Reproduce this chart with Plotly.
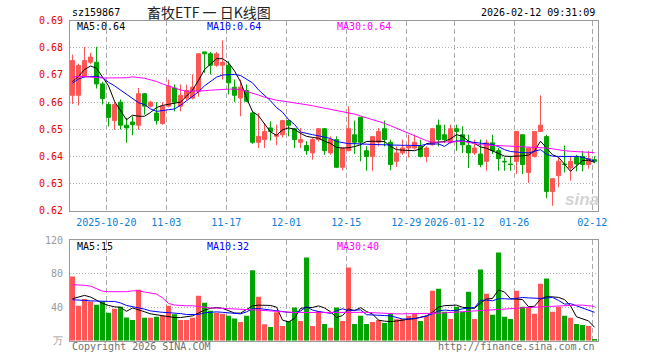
import plotly.graph_objects as go

# ---------------- data ----------------
opens = [0.6625, 0.6625, 0.6695, 0.6747, 0.6747, 0.6667, 0.6591, 0.6532, 0.6600, 0.6515,
         0.6527, 0.6515, 0.6631, 0.6585, 0.6560, 0.6521, 0.6585, 0.6652, 0.6585, 0.6615,
         0.6615, 0.6640, 0.6785, 0.6778, 0.6736, 0.6736, 0.6736, 0.6655, 0.6615, 0.6643,
         0.6560, 0.6452, 0.6462, 0.6505, 0.6474, 0.6480, 0.6532, 0.6502, 0.6452, 0.6440,
         0.6413, 0.6462, 0.6502, 0.6413, 0.6462, 0.6360, 0.6421, 0.6480, 0.6544, 0.6421,
         0.6400, 0.6452, 0.6502, 0.6452, 0.6382, 0.6413, 0.6431, 0.6431, 0.6437, 0.6400,
         0.6443, 0.6515, 0.6480, 0.6452, 0.6502, 0.6480, 0.6440, 0.6413, 0.6409, 0.6382,
         0.6450, 0.6421, 0.6382, 0.6372, 0.6382, 0.6480, 0.6341, 0.6400, 0.6492, 0.6473,
         0.6271, 0.6329, 0.6372, 0.6357, 0.6396, 0.6400, 0.6370, 0.6388]
highs = [0.6775, 0.6742, 0.6803, 0.6782, 0.6804, 0.6675, 0.6600, 0.6600, 0.6610, 0.6542,
         0.6548, 0.6652, 0.6633, 0.6605, 0.6600, 0.6600, 0.6683, 0.6665, 0.6665, 0.6665,
         0.6702, 0.6780, 0.6785, 0.6785, 0.6785, 0.6828, 0.6751, 0.6683, 0.6683, 0.6665,
         0.6566, 0.6560, 0.6523, 0.6529, 0.6517, 0.6535, 0.6535, 0.6505, 0.6505, 0.6456,
         0.6468, 0.6505, 0.6505, 0.6474, 0.6474, 0.6431, 0.6585, 0.6532, 0.6544, 0.6437,
         0.6473, 0.6505, 0.6532, 0.6462, 0.6437, 0.6462, 0.6480, 0.6480, 0.6462, 0.6437,
         0.6505, 0.6536, 0.6517, 0.6517, 0.6517, 0.6511, 0.6480, 0.6462, 0.6462, 0.6462,
         0.6480, 0.6431, 0.6396, 0.6400, 0.6492, 0.6480, 0.6431, 0.6492, 0.6625, 0.6480,
         0.6318, 0.6396, 0.6440, 0.6400, 0.6406, 0.6420, 0.6420, 0.6400]
lows = [0.6593, 0.6588, 0.6690, 0.6740, 0.6650, 0.6591, 0.6511, 0.6499, 0.6499, 0.6450,
        0.6478, 0.6499, 0.6554, 0.6580, 0.6517, 0.6517, 0.6580, 0.6566, 0.6566, 0.6608,
        0.6610, 0.6620, 0.6708, 0.6702, 0.6730, 0.6683, 0.6628, 0.6600, 0.6548, 0.6600,
        0.6446, 0.6431, 0.6431, 0.6458, 0.6441, 0.6470, 0.6474, 0.6431, 0.6431, 0.6406,
        0.6388, 0.6455, 0.6406, 0.6406, 0.6357, 0.6349, 0.6419, 0.6409, 0.6382, 0.6347,
        0.6347, 0.6437, 0.6437, 0.6349, 0.6361, 0.6406, 0.6396, 0.6425, 0.6396, 0.6379,
        0.6440, 0.6437, 0.6449, 0.6447, 0.6421, 0.6413, 0.6357, 0.6406, 0.6360, 0.6347,
        0.6409, 0.6347, 0.6347, 0.6347, 0.6335, 0.6335, 0.6302, 0.6396, 0.6490, 0.6246,
        0.6218, 0.6286, 0.6341, 0.6311, 0.6345, 0.6345, 0.6355, 0.6375]
closes = [0.6753, 0.6735, 0.6753, 0.6766, 0.6667, 0.6613, 0.6544, 0.6591, 0.6515, 0.6505,
          0.6517, 0.6631, 0.6585, 0.6600, 0.6532, 0.6585, 0.6659, 0.6600, 0.6625, 0.6643,
          0.6655, 0.6778, 0.6778, 0.6736, 0.6778, 0.6747, 0.6671, 0.6625, 0.6655, 0.6603,
          0.6452, 0.6474, 0.6492, 0.6492, 0.6480, 0.6532, 0.6515, 0.6462, 0.6462, 0.6421,
          0.6462, 0.6502, 0.6421, 0.6462, 0.6360, 0.6431, 0.6502, 0.6452, 0.6452, 0.6400,
          0.6473, 0.6492, 0.6462, 0.6370, 0.6413, 0.6431, 0.6437, 0.6452, 0.6400, 0.6431,
          0.6502, 0.6462, 0.6462, 0.6502, 0.6492, 0.6443, 0.6413, 0.6431, 0.6370, 0.6450,
          0.6421, 0.6392, 0.6380, 0.6370, 0.6492, 0.6370, 0.6431, 0.6492, 0.6515, 0.6271,
          0.6318, 0.6382, 0.6370, 0.6382, 0.6372, 0.6370, 0.6392, 0.6382]
volumes = [76.4, 41.6, 49.6, 46.8, 42.8, 46.8, 33.2, 38.0, 40.4, 27.6,
           24.8, 60.8, 27.2, 27.2, 28.4, 29.6, 41.6, 31.6, 24.8, 24.8,
           27.2, 53.6, 45.2, 35.6, 33.2, 32.0, 29.6, 26.4, 22.4, 29.6,
           84.0, 52.4, 19.6, 16.4, 34.0, 17.6, 23.6, 39.6, 23.6, 99.2,
           17.6, 35.2, 20.0, 15.4, 39.6, 23.6, 87.2, 20.0, 29.6, 20.0,
           22.4, 24.8, 21.2, 32.0, 25.6, 25.6, 29.6, 32.0, 23.6, 29.6,
           59.6, 62.0, 34.4, 26.0, 40.4, 34.4, 58.4, 26.0, 84.8, 56.0,
           30.8, 105.2, 28.4, 26.0, 59.6, 40.4, 40.4, 32.0, 68.0, 74.0,
           34.4, 40.4, 29.6, 27.2, 20.0, 18.8, 17.6, 2.0]

ma5 = [0.6676, 0.6695, 0.6720, 0.6733, 0.6725, 0.6690, 0.6660, 0.6603, 0.6568, 0.6535,
       0.6552, 0.6548, 0.6548, 0.6562, 0.6580, 0.6588, 0.6592, 0.6596, 0.6600, 0.6622,
       0.6645, 0.6680, 0.6720, 0.6740, 0.6760, 0.6760, 0.6745, 0.6715, 0.6675, 0.6615,
       0.6565, 0.6550, 0.6522, 0.6490, 0.6478, 0.6498, 0.6505, 0.6500, 0.6485, 0.6474,
       0.6470, 0.6467, 0.6456, 0.6448, 0.6433, 0.6431, 0.6432, 0.6436, 0.6443, 0.6455,
       0.6456, 0.6456, 0.6455, 0.6437, 0.6425, 0.6423, 0.6421, 0.6421, 0.6428, 0.6447,
       0.6450, 0.6452, 0.6455, 0.6465, 0.6480, 0.6474, 0.6456, 0.6448, 0.6435, 0.6430,
       0.6420, 0.6412, 0.6401, 0.6400, 0.6400, 0.6402, 0.6405, 0.6420, 0.6456, 0.6431,
       0.6406, 0.6397, 0.6370, 0.6345, 0.6365, 0.6385, 0.6386, 0.6378]
ma10 = [0.6670, 0.6685, 0.6693, 0.6695, 0.6695, 0.6690, 0.6673, 0.6660, 0.6645, 0.6630,
        0.6612, 0.6598, 0.6591, 0.6575, 0.6566, 0.6570, 0.6572, 0.6575, 0.6588, 0.6605,
        0.6622, 0.6638, 0.6660, 0.6675, 0.6692, 0.6700, 0.6702, 0.6702, 0.6698, 0.6685,
        0.6671, 0.6645, 0.6625, 0.6605, 0.6580, 0.6563, 0.6536, 0.6518, 0.6490, 0.6484,
        0.6480, 0.6476, 0.6472, 0.6466, 0.6455, 0.6450, 0.6447, 0.6447, 0.6447, 0.6445,
        0.6444, 0.6443, 0.6442, 0.6442, 0.6441, 0.6441, 0.6441, 0.6441, 0.6440, 0.6445,
        0.6446, 0.6446, 0.6437, 0.6452, 0.6457, 0.6457, 0.6454, 0.6451, 0.6449, 0.6447,
        0.6444, 0.6436, 0.6425, 0.6418, 0.6415, 0.6414, 0.6413, 0.6418, 0.6425, 0.6408,
        0.6401, 0.6400, 0.6400, 0.6400, 0.6400, 0.6397, 0.6390, 0.6383]
ma30 = [0.6692, 0.6695, 0.6694, 0.6692, 0.6690, 0.6689, 0.6689, 0.6689, 0.6688, 0.6690,
        0.6693, 0.6691, 0.6688, 0.6682, 0.6676, 0.6667, 0.6659, 0.6651, 0.6645, 0.6640,
        0.6640, 0.6641, 0.6642, 0.6644, 0.6646, 0.6647, 0.6648, 0.6648, 0.6646, 0.6640,
        0.6634, 0.6626, 0.6618, 0.6612, 0.6607, 0.6604, 0.6601, 0.6598, 0.6595, 0.6591,
        0.6587, 0.6582, 0.6578, 0.6573, 0.6568, 0.6564, 0.6560, 0.6556, 0.6549, 0.6542,
        0.6536, 0.6530, 0.6522, 0.6513, 0.6504, 0.6494, 0.6484, 0.6474, 0.6466, 0.6458,
        0.6452, 0.6452, 0.6452, 0.6452, 0.6454, 0.6456, 0.6452, 0.6447, 0.6443, 0.6442,
        0.6441, 0.6440, 0.6439, 0.6438, 0.6437, 0.6436, 0.6436, 0.6435, 0.6433, 0.6431,
        0.6428, 0.6424, 0.6421, 0.6419, 0.6417, 0.6416, 0.6415, 0.6414]

vol_ma5 = [50.0, 52.0, 54.0, 52.0, 48.0, 44.5, 42.0, 40.4, 39.8, 35.0,
           39.0, 37.0, 34.5, 32.0, 31.0, 30.4, 28.5, 27.6, 27.6, 28.5,
           29.6, 33.0, 36.5, 38.5, 39.5, 38.5, 36.0, 33.0, 32.8, 37.0,
           41.5, 42.4, 42.4, 42.0, 40.0, 24.5, 22.4, 26.5, 38.5, 39.6,
           39.6, 41.5, 39.0, 34.5, 27.6, 30.0, 38.0, 35.8, 39.4, 34.8,
           31.8, 24.5, 23.3, 22.8, 23.5, 24.8, 25.5, 26.2, 27.5, 29.5,
           34.0, 40.0, 41.8, 42.4, 42.4, 39.8, 39.0, 38.5, 45.0, 49.6,
           50.4, 60.5, 58.0, 50.0, 49.6, 49.0, 40.5, 41.0, 49.5, 52.5,
           52.2, 51.6, 49.0, 41.5, 28.5, 26.0, 23.6, 16.0]
vol_ma10 = [48.8, 48.8, 48.0, 47.5, 47.0, 46.8, 46.8, 46.8, 45.0, 42.0,
            40.5, 39.5, 37.6, 35.5, 34.4, 33.8, 33.4, 33.0, 32.3, 31.2,
            31.2, 31.2, 33.2, 34.0, 34.4, 33.8, 33.0, 32.5, 32.0, 34.4,
            38.0, 38.4, 37.5, 36.0, 35.0, 34.0, 33.8, 33.6, 35.4, 40.5,
            36.5, 34.8, 33.5, 32.6, 35.5, 38.0, 35.8, 36.0, 36.8, 31.0,
            30.4, 30.4, 30.0, 29.6, 27.5, 25.8, 26.0, 26.4, 27.8, 29.4,
            32.0, 35.5, 36.5, 35.8, 36.0, 38.0, 38.8, 39.4, 48.0, 48.5,
            47.6, 50.0, 50.0, 49.6, 50.5, 51.5, 51.0, 50.4, 50.4, 50.8,
            51.6, 48.0, 43.6, 44.2, 41.5, 38.5, 36.5, 33.8]
vol_ma30 = [66.8, 66.8, 66.0, 65.0, 62.0, 59.0, 58.4, 58.4, 58.4, 58.4,
            59.4, 59.6, 58.0, 56.8, 55.6, 51.0, 44.5, 42.5, 41.6, 41.6,
            41.6, 40.6, 39.4, 39.0, 38.8, 38.6, 38.4, 38.0, 37.6, 37.2,
            36.8, 36.4, 35.8, 35.2, 34.6, 34.2, 33.9, 33.6, 33.6, 33.6,
            33.8, 34.2, 34.2, 33.6, 33.8, 34.2, 34.4, 34.4, 34.4, 33.8,
            33.4, 32.9, 32.6, 32.3, 32.0, 32.0, 32.0, 32.0, 32.0, 32.0,
            32.4, 32.8, 33.2, 33.6, 34.0, 34.4, 34.8, 35.3, 35.6, 35.8,
            36.4, 36.9, 37.6, 38.3, 38.6, 39.2, 39.6, 40.0, 40.6, 41.0,
            41.6, 42.1, 42.4, 42.4, 42.4, 42.4, 41.8, 40.8]

date_tick_labels = ["2025-10-20", "11-03", "11-17", "12-01", "12-15",
                    "12-29", "2026-01-12", "01-26", "02-12"]
date_tick_index = [6, 16, 26, 36, 46, 56, 64, 74, 87]
price_ticks = [0.62, 0.63, 0.64, 0.65, 0.66, 0.67, 0.68, 0.69]
price_tick_text = ["0.62", "0.63", "0.64", "0.65", "0.66", "0.67", "0.68", "0.69"]
vol_ticks = [0, 40, 80, 120]
vol_tick_text = ["万", "40", "80", "120"]

# ---------------- styling ----------------
W, H = 660, 360
RED = "#ff5555"
GREEN = "#00a400"
MONO = "DejaVu Sans Mono"
idx = list(range(len(closes)))
vol_colors = [RED if c >= o else GREEN for o, c in zip(opens, closes)]
grid_pos = [i - 0.37 for i in date_tick_index]


def px(x):
    return x / W


def py(y):
    return 1 - y / H


fig = go.Figure()
fig.add_trace(go.Candlestick(
    x=idx, open=opens, high=highs, low=lows, close=closes,
    increasing=dict(line=dict(color=RED, width=1), fillcolor=RED),
    decreasing=dict(line=dict(color=GREEN, width=1), fillcolor=GREEN),
    whiskerwidth=0, xaxis="x", yaxis="y", hoverinfo="skip"))
for vals, col in [(ma5, "#000000"), (ma10, "#0000ff"), (ma30, "#ff00ff")]:
    fig.add_trace(go.Scatter(x=idx, y=vals, mode="lines", line=dict(color=col, width=1),
                             xaxis="x", yaxis="y", hoverinfo="skip"))
fig.add_trace(go.Bar(x=idx, y=volumes, marker=dict(color=vol_colors, line=dict(width=0)),
                     xaxis="x2", yaxis="y2", hoverinfo="skip"))
for vals, col in [(vol_ma5, "#000000"), (vol_ma10, "#0000ff"), (vol_ma30, "#ff00ff")]:
    fig.add_trace(go.Scatter(x=idx, y=vals, mode="lines", line=dict(color=col, width=1),
                             xaxis="x2", yaxis="y2", hoverinfo="skip"))

xr = [-0.42, 87.58]
xcommon = dict(range=xr, tickmode="array", tickvals=grid_pos, showgrid=True,
               gridcolor="#aaaaaa", griddash="5px,3px", gridwidth=1, zeroline=False,
               showline=True, mirror=True, linecolor="#999999", linewidth=1,
               ticks="", automargin=False, fixedrange=True,
               domain=[px(70), px(598)])
ycommon = dict(showgrid=True, gridcolor="#b4b4b4", griddash="1px,2px", gridwidth=1,
               zeroline=False, showline=True, mirror=True, linecolor="#999999",
               linewidth=1, ticks="", automargin=False, fixedrange=True,
               tickmode="array", ticklabelstandoff=4)

fig.update_layout(
    width=W, height=H, margin=dict(l=0, r=0, t=0, b=0),
    paper_bgcolor="white", plot_bgcolor="white", template="none",
    showlegend=False, hovermode=False, bargap=0.17,
    boxgap=0.18, boxgroupgap=0.18,
    xaxis=dict(**xcommon, anchor="y", ticktext=date_tick_labels,
               tickfont=dict(family=MONO, size=10, color="#0a80d8"),
               ticklabelstandoff=2, rangeslider=dict(visible=False)),
    yaxis=dict(**ycommon, range=[0.62, 0.69], domain=[py(210.7), py(20.7)],
               anchor="x", tickvals=price_ticks, ticktext=price_tick_text,
               tickfont=dict(family=MONO, size=10, color="#ee0000")),
    xaxis2=dict(**xcommon, anchor="y2", showticklabels=False),
    yaxis2=dict(**ycommon, range=[0, 120], domain=[py(340.7), py(240)],
                anchor="x2", tickvals=vol_ticks, ticktext=vol_tick_text,
                tickfont=dict(family=MONO, size=10, color="#999999")),
)

ann = []


def text(x, y, s, color, size=10, xanchor="left", family=MONO):
    ann.append(dict(x=px(x), y=py(y), xref="paper", yref="paper", text=s, showarrow=False,
                    xanchor=xanchor, yanchor="middle",
                    font=dict(family=family, size=size, color=color)))


text(70, 13, "sz159867", "#000000")
text(209, 12.5, "畜牧ETF\u00a0一\u00a0日K线图", "#222222", size=14, xanchor="center",
     family="Noto Sans CJK SC")
text(597, 12.5, "2026-02-12 09:31:09", "#000000", xanchor="right")
text(75, 26.5, "MA5:0.64", "#000000")
text(205, 26.5, "MA10:0.64", "#0000ff")
text(335, 26.5, "MA30:0.64", "#ff00ff")
text(75, 246.5, "MA5:15", "#000000")
text(205, 246.5, "MA10:32", "#0000ff")
text(335, 246.5, "MA30:40", "#ff00ff")
text(70, 346, "Copyright 2026 SINA.COM", "#707070")
text(597, 346, "http://finance.sina.com.cn", "#707070", xanchor="right")
text(582, 199, "<b><i>sina</i></b>", "#d4d4d4", size=17, xanchor="center",
     family="Liberation Sans")
fig.update_layout(annotations=ann)

fig.write_html("out.html", config={"displayModeBar": False, "staticPlot": True},
               post_script="document.body.style.margin='0';"
                           "document.body.style.overflow='hidden';")
